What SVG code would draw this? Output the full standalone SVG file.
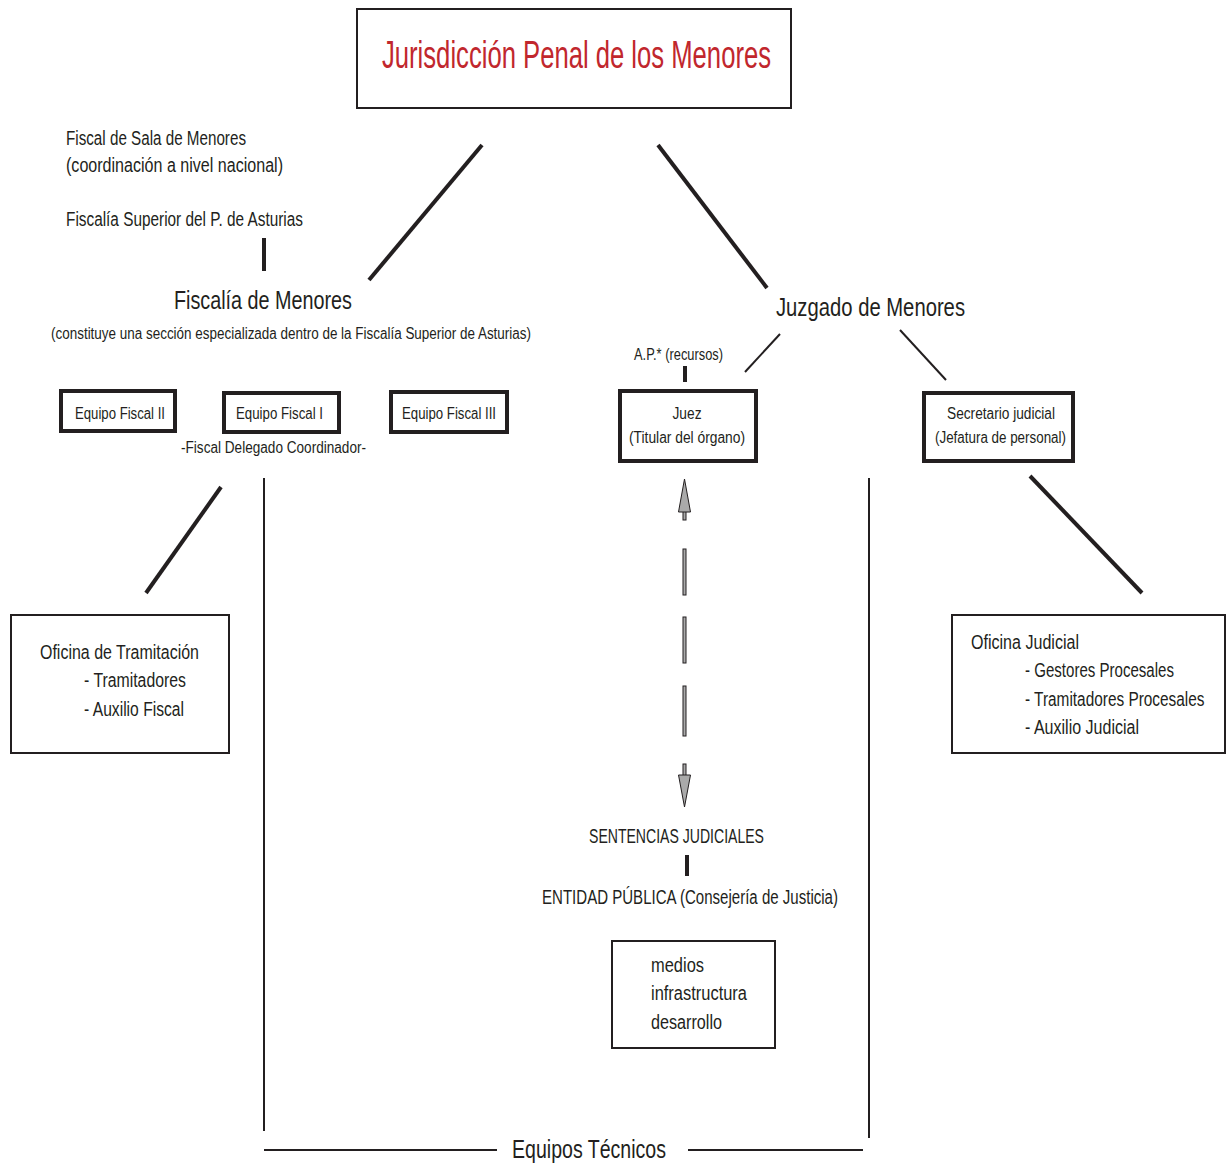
<svg xmlns="http://www.w3.org/2000/svg" width="1232" height="1164" viewBox="0 0 1232 1164">
<style>
text{font-family:"Liberation Sans",Arial,sans-serif;fill:#231f20}
.s16{font-size:16px}.s20{font-size:20px}.s26{font-size:26px}
.thin{fill:#fff;stroke:#231f20;stroke-width:2}
.thick{fill:#fff;stroke:#231f20;stroke-width:4}
.c line{stroke:#231f20}
</style>
<rect width="1232" height="1164" fill="#fff"/>
<g id="title">
<rect class="thin" x="357" y="9" width="434" height="99"/>
<text x="382" y="68" style="font-size:38px;fill:#c1272d" textLength="389" lengthAdjust="spacingAndGlyphs">Jurisdicción Penal de los Menores</text>
</g>
<g class="c" id="connectors">
<line x1="482" y1="145" x2="369" y2="280" stroke-width="4"/>
<line x1="658" y1="145" x2="767" y2="288" stroke-width="4"/>
<line x1="264" y1="238" x2="264" y2="271" stroke-width="4"/>
<line x1="780" y1="334" x2="745" y2="372" stroke-width="2"/>
<line x1="900" y1="330" x2="946" y2="380" stroke-width="2"/>
<line x1="685" y1="366" x2="685" y2="382" stroke-width="4"/>
<line x1="221" y1="487" x2="146" y2="593" stroke-width="4"/>
<line x1="264" y1="478" x2="264" y2="1131" stroke-width="2"/>
<line x1="869" y1="478" x2="869" y2="1138" stroke-width="2"/>
<line x1="264" y1="1150" x2="497" y2="1150" stroke-width="2"/>
<line x1="688" y1="1150" x2="863" y2="1150" stroke-width="2"/>
<line x1="1030" y1="476" x2="1142" y2="593" stroke-width="4"/>
<line x1="687" y1="855" x2="687" y2="876" stroke-width="4"/>
<g fill="#aaa" stroke="#231f20" stroke-width="1">
<rect x="683" y="510" width="3" height="10"/>
<polygon points="684.5,479 678.5,512 690.5,512"/>
<rect x="683" y="549" width="3" height="46"/>
<rect x="683" y="617" width="3" height="46"/>
<rect x="683" y="686" width="3" height="50"/>
<rect x="683" y="764" width="3" height="13"/>
<polygon points="684.5,807 678.5,775 690.5,775"/>
</g>
</g>
<g id="fiscal-sala">
<text class="s20" x="66" y="145" textLength="180" lengthAdjust="spacingAndGlyphs">Fiscal de Sala de Menores</text>
<text class="s20" x="66" y="172" textLength="217" lengthAdjust="spacingAndGlyphs">(coordinación a nivel nacional)</text>
</g>
<g id="fiscalia-superior">
<text class="s20" x="66" y="226" textLength="237" lengthAdjust="spacingAndGlyphs">Fiscalía Superior del P. de Asturias</text>
</g>
<g id="fiscalia-menores">
<text class="s26" x="174" y="309" textLength="178" lengthAdjust="spacingAndGlyphs">Fiscalía de Menores</text>
<text class="s16" x="51" y="339" textLength="480" lengthAdjust="spacingAndGlyphs">(constituye una sección especializada dentro de la Fiscalía Superior de Asturias)</text>
</g>
<g id="juzgado">
<text class="s26" x="776" y="316" textLength="189" lengthAdjust="spacingAndGlyphs">Juzgado de Menores</text>
</g>
<g id="ap">
<text class="s16" x="634" y="360" textLength="89" lengthAdjust="spacingAndGlyphs">A.P.* (recursos)</text>
</g>
<g id="equipo-ii">
<rect class="thick" x="61" y="391" width="114" height="40"/>
<text class="s16" x="75" y="419" textLength="90" lengthAdjust="spacingAndGlyphs">Equipo Fiscal II</text>
</g>
<g id="equipo-i">
<rect class="thick" x="224" y="393" width="115" height="39"/>
<text class="s16" x="236" y="419" textLength="87" lengthAdjust="spacingAndGlyphs">Equipo Fiscal I</text>
<text class="s16" x="181" y="453" textLength="185" lengthAdjust="spacingAndGlyphs">-Fiscal Delegado Coordinador-</text>
</g>
<g id="equipo-iii">
<rect class="thick" x="391" y="392" width="116" height="40"/>
<text class="s16" x="402" y="419" textLength="94" lengthAdjust="spacingAndGlyphs">Equipo Fiscal III</text>
</g>
<g id="juez">
<rect class="thick" x="620" y="391" width="136" height="70"/>
<text class="s16" x="687" y="419" text-anchor="middle" textLength="29" lengthAdjust="spacingAndGlyphs">Juez</text>
<text class="s16" x="629" y="443" textLength="116" lengthAdjust="spacingAndGlyphs">(Titular del órgano)</text>
</g>
<g id="secretario">
<rect class="thick" x="924" y="393" width="149" height="68"/>
<text class="s16" x="947" y="419" textLength="108" lengthAdjust="spacingAndGlyphs">Secretario judicial</text>
<text class="s16" x="935" y="443" textLength="131" lengthAdjust="spacingAndGlyphs">(Jefatura de personal)</text>
</g>
<g id="oficina-tramitacion">
<rect class="thin" x="11" y="615" width="218" height="138"/>
<text class="s20" x="40" y="659" textLength="159" lengthAdjust="spacingAndGlyphs">Oficina de Tramitación</text>
<text class="s20" x="84" y="687" textLength="102" lengthAdjust="spacingAndGlyphs">- Tramitadores</text>
<text class="s20" x="84" y="716" textLength="100" lengthAdjust="spacingAndGlyphs">- Auxilio Fiscal</text>
</g>
<g id="oficina-judicial">
<rect class="thin" x="952" y="615" width="273" height="138"/>
<text class="s20" x="971" y="649" textLength="108" lengthAdjust="spacingAndGlyphs">Oficina Judicial</text>
<text class="s20" x="1025" y="677" textLength="149" lengthAdjust="spacingAndGlyphs">- Gestores Procesales</text>
<text class="s20" transform="translate(1025,706) scale(0.77,1)" x="0" y="0">- Tramitadores Procesales</text>
<text class="s20" x="1025" y="734" textLength="114" lengthAdjust="spacingAndGlyphs">- Auxilio Judicial</text>
</g>
<g id="sentencias">
<text class="s20" x="589" y="843" textLength="175" lengthAdjust="spacingAndGlyphs">SENTENCIAS JUDICIALES</text>
</g>
<g id="entidad">
<text class="s20" x="542" y="904" textLength="296" lengthAdjust="spacingAndGlyphs">ENTIDAD PÚBLICA (Consejería de Justicia)</text>
</g>
<g id="medios">
<rect class="thin" x="612" y="941" width="163" height="107"/>
<text class="s20" x="651" y="972" textLength="53" lengthAdjust="spacingAndGlyphs">medios</text>
<text class="s20" x="651" y="1000" textLength="96" lengthAdjust="spacingAndGlyphs">infrastructura</text>
<text class="s20" x="651" y="1029" textLength="71" lengthAdjust="spacingAndGlyphs">desarrollo</text>
</g>
<g id="equipos-tecnicos">
<text class="s26" x="512" y="1158" textLength="154" lengthAdjust="spacingAndGlyphs">Equipos Técnicos</text>
</g>
</svg>
